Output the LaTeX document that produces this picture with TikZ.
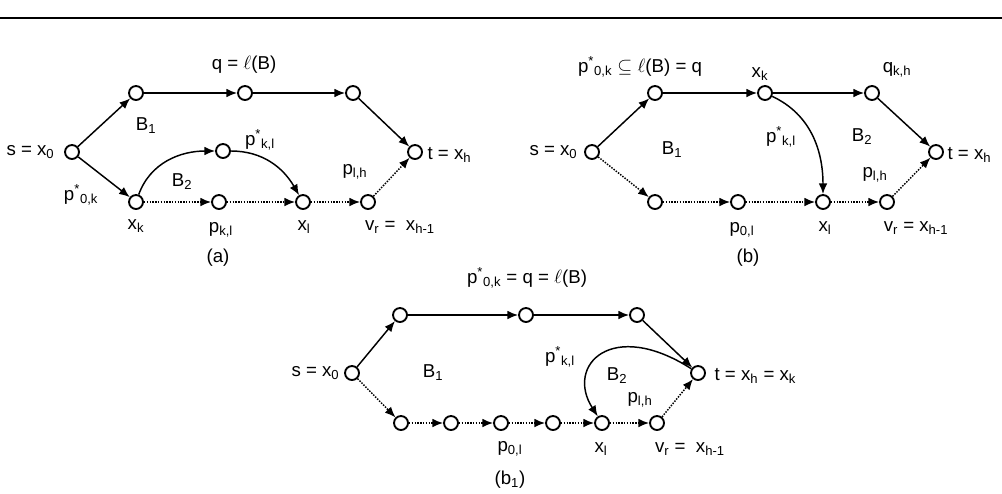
\documentclass[tikz,border=0pt]{standalone}
\usepackage{fontspec}
\setmainfont{Liberation Sans}
\usetikzlibrary{arrows.meta}
\newcommand{\pst}[1]{p\textsuperscript{*}\textsubscript{#1}}
\newcommand{\sbs}[1]{\textsubscript{#1}}

\begin{document}
\begin{tikzpicture}[x=0.75pt, y=-0.75pt, font=\fontsize{14}{16}\selectfont,
  >={Latex[length=8pt,width=6.5pt]},
  vtx/.style={circle, draw, line width=1.4pt, minimum size=10.5pt, inner sep=0pt},
  lbl/.style={inner sep=1pt},
  pth/.style={->, line width=1.1pt},
  dpth/.style={->, line width=1.1pt, densely dotted}]
\useasboundingbox (0,0) rectangle (1002,493);
\draw[line width=1.2pt] (0,18) -- (1002,18);

% (a)
\node[vtx] (sA) at (72,152) {};
\node[vtx] (uA1) at (136,93) {};
\node[vtx] (uA2) at (245,93) {};
\node[vtx] (uA3) at (353,93) {};
\node[vtx] (tA) at (415,152) {};
\node[vtx] (kA) at (136,202) {};
\node[vtx] (mA) at (223,151) {};
\node[vtx] (pA) at (219,202) {};
\node[vtx] (lA) at (303,202) {};
\node[vtx] (vA) at (368,202) {};
\draw[pth] (sA) -- (uA1); \draw[pth] (uA1) -- (uA2); \draw[pth] (uA2) -- (uA3); \draw[pth] (uA3) -- (tA);
\draw[pth] (sA) -- (kA);
\draw[dpth] (kA) -- (pA); \draw[dpth] (pA) -- (lA); \draw[dpth] (lA) -- (vA); \draw[dpth] (vA) -- (tA);
\draw[pth] (kA) to[out=70, in=180] (mA);
\draw[pth] (mA) to[out=0, in=120] (lA);
\node[lbl] (qlabA) at (244,65) {q = $\ell$(B)};
\node[lbl] (b1labA) at (146,126) {B\sbs{1}};
\node[lbl, anchor=east] (slabA) at (56,152) {s = x\sbs{0}};
\node[lbl, anchor=west] (tlabA) at (426,155) {t = x\sbs{h}};
\node[lbl] (p0kA) at (81,195) {\pst{0,k}};
\node[lbl] (b2labA) at (182,182) {B\sbs{2}};
\node[lbl] (pklA) at (260,140) {\pst{k,l}};
\node[lbl] (plhA) at (355,172) {p\sbs{l,h}};
\node[lbl] (xkA) at (136,226) {x\sbs{k}};
\node[lbl] (pkA) at (221,230) {p\sbs{k,l}};
\node[lbl] (xlA) at (304,227) {x\sbs{l}};
\node[lbl] (vrA) at (400,227) {v\sbs{r} =\ \ x\sbs{h-1}};
\node[lbl] (capA) at (218,258) {(a)};

% (b)
\node[vtx] (sB) at (592,152) {};
\node[vtx] (uB1) at (655,93) {};
\node[vtx] (kB) at (765,93) {};
\node[vtx] (qB) at (872,93) {};
\node[vtx] (tB) at (936,152) {};
\node[vtx] (lB1) at (655,202) {};
\node[vtx] (pB) at (738,202) {};
\node[vtx] (lB) at (823,202) {};
\node[vtx] (vB) at (887,202) {};
\draw[pth] (sB) -- (uB1); \draw[pth] (uB1) -- (kB); \draw[pth] (kB) -- (qB); \draw[pth] (qB) -- (tB);
\draw[dpth] (sB) -- (lB1); \draw[dpth] (lB1) -- (pB); \draw[dpth] (pB) -- (lB); \draw[dpth] (lB) -- (vB); \draw[dpth] (vB) -- (tB);
\draw[pth] (kB) to[out=-25, in=90] (lB);
\node[lbl] (qlabB) at (640,67) {\pst{0,k} $\subseteq$ $\ell$(B) = q};
\node[lbl] (xkB) at (760,74) {x\sbs{k}};
\node[lbl] (qkhB) at (897,70) {q\sbs{k,h}};
\node[lbl] (b1labB) at (672,150) {B\sbs{1}};
\node[lbl] (pklB) at (781,137) {\pst{k,l}};
\node[lbl] (b2labB) at (862,137) {B\sbs{2}};
\node[lbl] (plhB) at (875,175) {p\sbs{l,h}};
\node[lbl, anchor=east] (slabB) at (579,152) {s = x\sbs{0}};
\node[lbl, anchor=west] (tlabB) at (946,155) {t = x\sbs{h}};
\node[lbl] (p0lB) at (742,230) {p\sbs{0,l}};
\node[lbl] (xlB) at (825,228) {x\sbs{l}};
\node[lbl] (vrB) at (916,228) {v\sbs{r} = x\sbs{h-1}};
\node[lbl] (capB) at (748,258) {(b)};

% (b1)
\node[vtx] (sC) at (352,373) {};
\node[vtx] (uC1) at (400,315) {};
\node[vtx] (uC2) at (526,315) {};
\node[vtx] (uC3) at (637,315) {};
\node[vtx] (tC) at (698,373) {};
\node[vtx] (lC1) at (401,423) {};
\node[vtx] (lC2) at (451,423) {};
\node[vtx] (pC) at (501,423) {};
\node[vtx] (lC4) at (553,423) {};
\node[vtx] (lC) at (602,423) {};
\node[vtx] (vC) at (657,423) {};
\draw[pth] (sC) -- (uC1); \draw[pth] (uC1) -- (uC2); \draw[pth] (uC2) -- (uC3); \draw[pth] (uC3) -- (tC);
\draw[dpth] (sC) -- (lC1); \draw[dpth] (lC1) -- (lC2); \draw[dpth] (lC2) -- (pC); \draw[dpth] (pC) -- (lC4);
\draw[dpth] (lC4) -- (lC); \draw[dpth] (lC) -- (vC); \draw[dpth] (vC) -- (tC);
\draw[pth] (tC) .. controls (612,318) and (565,365) .. (lC);
\node[lbl] (qlabC) at (527,278) {\pst{0,k} = q = $\ell$(B)};
\node[lbl] (b1labC) at (433,373) {B\sbs{1}};
\node[lbl, anchor=east] (slabC) at (341,373) {s = x\sbs{0}};
\node[lbl] (pklC) at (560,357) {\pst{k,l}};
\node[lbl] (b2labC) at (617,376) {B\sbs{2}};
\node[lbl] (plhC) at (640,400) {p\sbs{l,h}};
\node[lbl, anchor=west] (tlabC) at (713,376) {t = x\sbs{h} = x\sbs{k}};
\node[lbl] (p0lC) at (510,449) {p\sbs{0,l}};
\node[lbl] (xlC) at (601,449) {x\sbs{l}};
\node[lbl] (vrC) at (690,449) {v\sbs{r} =\ \ x\sbs{h-1}};
\node[lbl] (capC) at (510,480) {(b\sbs{1})};
\end{tikzpicture}
\end{document}
